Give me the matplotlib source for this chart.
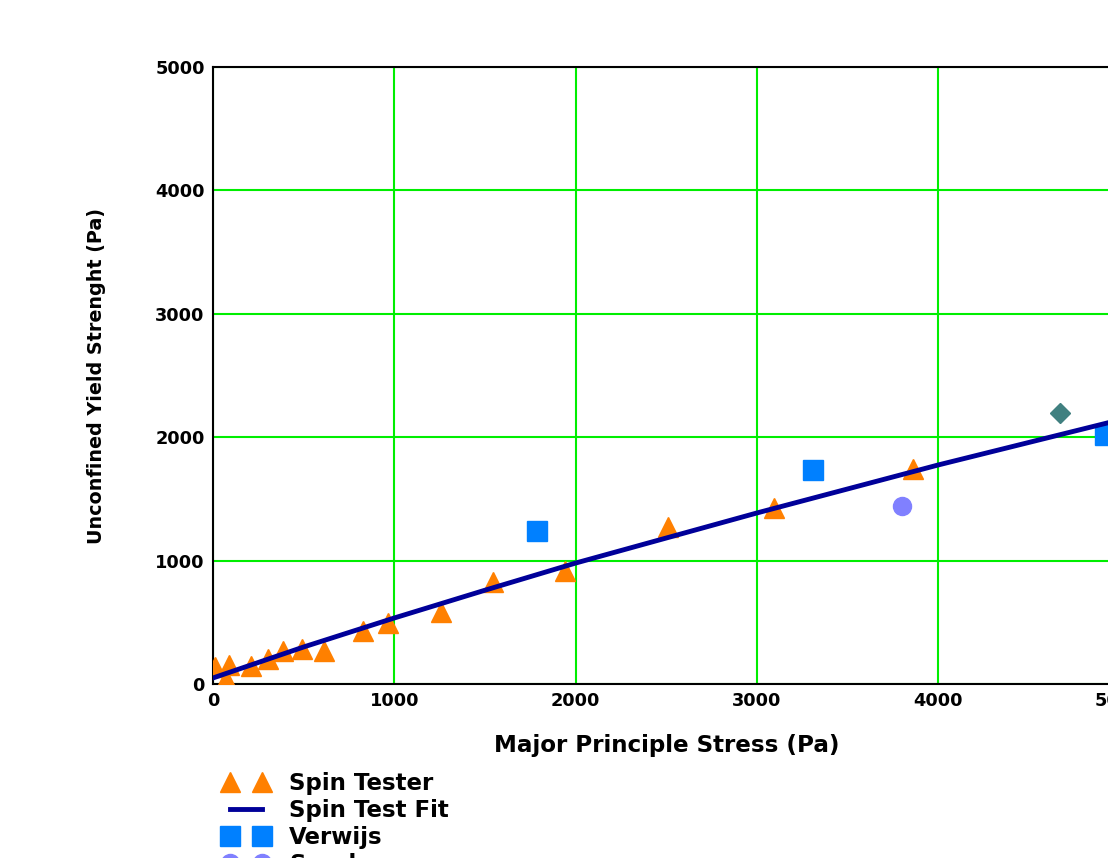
import matplotlib
matplotlib.use("Agg")
import matplotlib.pyplot as plt

plt.rcParams['font.family'] = ['DejaVu Sans']

# Spin Tester measurements (Pa)
spin_x = [11, 72, 88, 210, 303, 386, 491, 612, 827, 965, 1258, 1544, 1942, 2510, 3094, 3861]
spin_y = [138, 41, 154, 146, 203, 267, 284, 267, 430, 494, 583, 827, 916, 1272, 1426, 1742]

# Spin Test Fit
fit_x = [0, 500, 1000, 1500, 2000, 3000, 4000, 5000]
fit_y = [49, 300, 535, 760, 980, 1386, 1775, 2140]

verwijs_x = [1787, 3309, 4920]
verwijs_y = [1240, 1734, 2018]

sarphar_x = [3800]
sarphar_y = [1442]

other_x = [4672]
other_y = [2196]

x_ticks = [0, 1000, 2000, 3000, 4000, 5000]
y_ticks = [0, 1000, 2000, 3000, 4000, 5000]

fig = plt.figure(figsize=(11.08, 8.58), dpi=100)
# axes run past the right edge of the picture, as in the reference
ax = fig.add_axes([213 / 1108, 174 / 858, 906.5 / 1108, 617 / 858])

ax.grid(True, color='#00ee00', linewidth=1.5)
ax.set_axisbelow(True)

ax.plot(spin_x, spin_y, linestyle='none', marker='^', markersize=15,
        color='#ff8000', label='Spin Tester', zorder=3)
ax.plot(fit_x, fit_y, color='#000099', linewidth=3.5, label='Spin Test Fit', zorder=4)
ax.plot(verwijs_x, verwijs_y, linestyle='none', marker='s', markersize=14,
        color='#0080ff', label='Verwijs', zorder=3)
ax.plot(sarphar_x, sarphar_y, linestyle='none', marker='o', markersize=13,
        color='#8080ff', label='Sarphar', zorder=3)
ax.plot(other_x, other_y, linestyle='none', marker='D', markersize=10,
        color='#408080', zorder=3)

ax.set_xlim(0, 5000)
ax.set_ylim(0, 5000)
ax.set_xticks(x_ticks)
ax.set_yticks(y_ticks)
ax.tick_params(length=0, labelsize=12.8, pad=6)
for lbl in ax.get_xticklabels() + ax.get_yticklabels():
    lbl.set_fontweight('bold')

for s in ax.spines.values():
    s.set_linewidth(1.5)

ax.set_xlabel('Major Principle Stress (Pa)', fontsize=16.6, fontweight='bold')
ax.set_ylabel('Unconfined Yield Strenght (Pa)', fontsize=13.8, fontweight='bold')
ax.xaxis.set_label_coords(0.5, -0.099)
ax.yaxis.set_label_coords(-0.129, 0.5)
ax.xaxis.label.set_va('center')
ax.yaxis.label.set_va('center')

fig.legend(loc='upper left', bbox_to_anchor=(216 / 1108, 1 - 765 / 858),
           frameon=False, numpoints=2, handlelength=2.0, handletextpad=0.9,
           labelspacing=0.18, borderaxespad=0, borderpad=0.3,
           prop={'size': 16.5, 'weight': 'bold'})

fig.savefig('out.png', dpi=100)
